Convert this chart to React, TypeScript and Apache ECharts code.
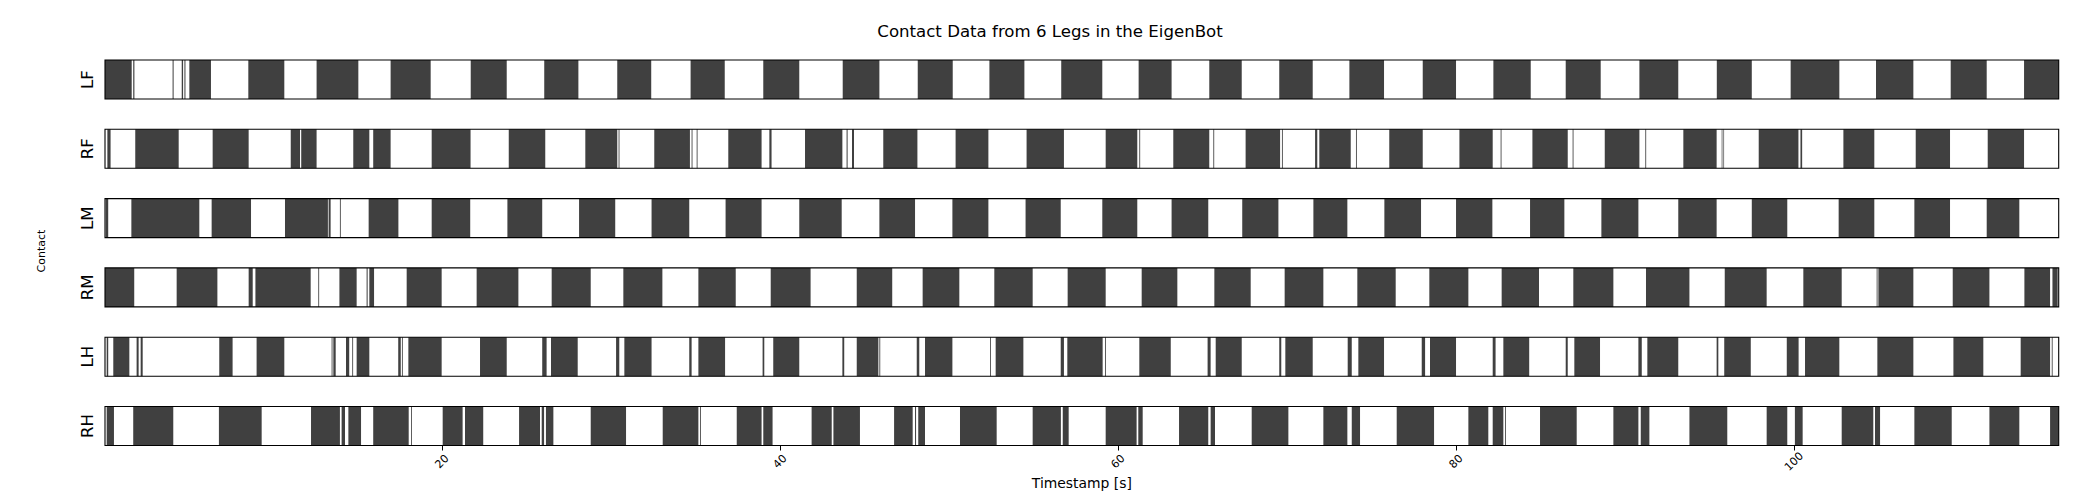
import React, { useEffect, useRef } from 'react';
import * as echarts from 'echarts';

const LEGS = ['LF', 'RF', 'LM', 'RM', 'LH', 'RH'];
const X_MIN = 0.06;
const X_MAX = 115.66;
const X_TICKS = [20, 40, 60, 80, 100];

const LF: [number, number][] = [[0.06,1.64],[1.73,1.80],[4.06,4.12],[4.60,4.68],[4.76,4.82],[5.05,6.33],[8.54,10.67],[12.58,15.05],[16.96,19.33],[21.70,23.83],[26.05,28.07],[30.37,32.38],[34.71,36.73],[39.01,41.14],[43.71,45.88],[48.15,50.22],[52.39,54.46],[56.64,59.07],[61.22,63.17],[65.40,67.32],[69.54,71.52],[73.69,75.74],[78.03,80.00],[82.21,84.42],[86.49,88.56],[90.85,93.15],[95.43,97.50],[99.80,102.68],[104.85,107.06],[109.27,111.40],[113.61,115.66]];
const RF: [number, number][] = [[0.20,0.39],[1.85,4.42],[6.43,8.56],[11.05,11.60],[11.67,12.58],[14.75,15.70],[15.93,16.96],[19.39,21.69],[23.95,26.11],[28.48,30.37],[30.45,30.50],[32.56,34.67],[34.77,34.82],[35.07,35.12],[36.94,38.91],[39.37,39.50],[41.48,43.69],[43.94,44.00],[44.26,44.38],[46.11,48.13],[50.39,52.33],[54.59,56.80],[59.27,61.14],[61.26,61.31],[63.27,65.40],[65.64,65.69],[67.55,69.59],[69.70,69.75],[71.66,71.79],[71.91,73.77],[74.08,74.13],[76.05,78.03],[80.20,82.17],[82.64,82.69],[84.52,86.61],[86.90,86.95],[88.80,90.85],[91.20,91.25],[93.45,95.42],[95.72,95.76],[95.82,95.86],[97.91,100.26],[100.38,100.48],[102.92,104.75],[107.20,109.23],[111.46,113.61]];
const LM: [number, number][] = [[0.10,0.25],[1.62,5.64],[6.37,8.70],[10.71,13.25],[13.29,13.41],[13.96,14.01],[15.66,17.42],[19.39,21.67],[23.87,25.93],[28.11,30.25],[32.40,34.63],[36.78,38.91],[41.14,43.65],[45.88,47.99],[50.20,52.33],[54.53,56.61],[59.07,61.14],[63.17,65.34],[67.35,69.49],[71.56,73.57],[75.76,77.93],[80.00,82.15],[84.38,86.41],[88.60,90.79],[93.15,95.42],[97.50,99.60],[102.64,104.75],[107.12,109.23],[111.40,113.33]];
const RM: [number, number][] = [[0.06,1.79],[4.30,6.71],[8.56,8.80],[8.96,12.23],[12.68,12.73],[13.93,14.95],[15.54,15.60],[15.70,15.98],[17.91,19.98],[22.05,24.52],[26.49,28.80],[30.73,33.04],[35.17,37.38],[39.45,41.81],[44.54,46.64],[48.44,50.61],[52.68,54.95],[57.02,59.27],[61.40,63.51],[65.70,67.85],[69.86,72.15],[74.16,76.43],[78.42,80.73],[82.70,84.91],[86.94,89.31],[91.24,93.81],[95.90,98.38],[100.55,102.82],[104.89,104.94],[104.99,107.06],[109.39,111.56],[113.63,115.15],[115.29,115.60]];
const LH: [number, number][] = [[0.16,0.25],[0.55,1.50],[1.93,2.05],[2.17,2.29],[6.82,7.61],[9.03,10.67],[13.47,13.52],[13.57,13.71],[14.32,14.51],[14.69,14.74],[14.95,15.70],[17.41,17.56],[17.63,17.68],[18.01,19.98],[22.25,23.83],[25.93,26.19],[26.45,28.03],[30.30,30.49],[30.79,32.40],[34.63,34.77],[35.17,36.75],[38.97,39.07],[39.60,41.14],[43.69,43.80],[44.54,45.82],[45.88,45.93],[48.09,48.24],[48.58,50.20],[52.43,52.48],[52.76,54.40],[56.61,56.80],[57.00,59.09],[59.23,59.28],[61.26,63.12],[65.30,65.48],[65.78,67.32],[69.54,69.66],[69.90,71.52],[73.59,73.83],[74.22,75.74],[77.97,78.17],[78.46,80.00],[82.17,82.34],[82.80,84.33],[86.49,86.61],[87.00,88.52],[90.79,90.99],[91.32,93.15],[95.42,95.52],[95.87,97.44],[99.57,100.27],[100.65,102.68],[104.93,107.06],[109.43,111.20],[113.41,115.15],[115.25,115.30]];
const RH: [number, number][] = [[0.16,0.59],[1.73,4.10],[6.80,9.33],[12.25,13.96],[14.06,14.26],[14.46,15.21],[15.93,18.03],[18.17,18.22],[20.04,21.22],[21.36,22.44],[24.56,25.80],[25.90,26.04],[26.15,26.59],[28.80,30.89],[33.06,35.17],[35.27,35.32],[37.44,38.91],[39.01,39.56],[41.87,43.06],[43.16,44.73],[46.75,47.85],[47.99,48.05],[48.18,48.58],[50.65,52.82],[54.95,56.62],[56.73,57.08],[59.27,61.10],[61.20,61.46],[63.61,65.34],[65.48,65.74],[67.91,70.08],[72.15,73.57],[73.83,74.32],[76.49,78.70],[80.73,81.91],[82.17,82.80],[82.90,82.95],[84.97,87.14],[89.31,90.79],[90.93,91.44],[93.81,96.05],[98.38,99.60],[100.05,100.51],[102.82,104.69],[104.79,105.09],[107.12,109.33],[111.56,113.33],[115.15,115.66]];

const LEG_DATA = [LF, RF, LM, RM, LH, RH];
const FONT = 'DejaVu Sans';

export default function App() {
  const ref = useRef<HTMLDivElement>(null);
  useEffect(() => {
    if (!ref.current) return;
    const chart = echarts.init(ref.current, undefined, { renderer: 'svg' });
    const grids: any[] = [];
    const xAxes: any[] = [];
    const yAxes: any[] = [];
    const series: any[] = [];
    LEGS.forEach((leg, i) => {
      const isLast = i === LEGS.length - 1;
      grids.push({ left: 105, right: 41.3, top: 60 + i * 69.3, height: 39, outerBoundsMode: 'none' });
      xAxes.push({
        gridIndex: i,
        type: 'value',
        min: X_MIN,
        max: X_MAX,
        show: true,
        axisLine: { show: false },
        splitLine: { show: false },
        axisTick: isLast
          ? { show: true, customValues: X_TICKS, length: 5, lineStyle: { color: '#000', width: 1 } }
          : { show: false },
        axisLabel: isLast
          ? {
              show: true,
              customValues: X_TICKS,
              rotate: 45,
              align: 'center',
              verticalAlign: 'middle',
              margin: 16,
              fontSize: 11,
              color: '#000',
              fontFamily: FONT,
            }
          : { show: false },
        name: isLast ? 'Timestamp [s]' : '',
        nameLocation: 'middle',
        nameGap: 26,
        nameTextStyle: { fontSize: 13.9, color: '#000', fontFamily: FONT },
      });
      yAxes.push({
        gridIndex: i,
        type: 'value',
        min: 0,
        max: 1,
        axisLine: { show: false },
        axisTick: { show: false },
        axisLabel: { show: false },
        splitLine: { show: false },
        name: leg,
        nameLocation: 'middle',
        nameGap: 9,
        nameTextStyle: { fontSize: 16.6, color: '#000', fontFamily: FONT },
      });
      series.push({
        type: 'custom',
        xAxisIndex: i,
        yAxisIndex: i,
        encode: { x: [0, 1] },
        data: LEG_DATA[i],
        renderItem: (params: any, api: any) => {
          const a = api.coord([api.value(0), 1]);
          const b = api.coord([api.value(1), 0]);
          return {
            type: 'rect',
            shape: { x: a[0], y: a[1], width: b[0] - a[0], height: b[1] - a[1] },
            style: { fill: '#404040' },
          };
        },
        z: 2,
      });
      series.push({
        type: 'custom',
        xAxisIndex: i,
        yAxisIndex: i,
        encode: { x: [0, 1] },
        data: [[X_MIN, X_MAX]],
        silent: true,
        renderItem: (params: any, api: any) => {
          const a = api.coord([api.value(0), 1]);
          const b = api.coord([api.value(1), 0]);
          return {
            type: 'rect',
            shape: { x: a[0], y: a[1], width: b[0] - a[0], height: b[1] - a[1] },
            style: { fill: 'none', stroke: '#000', lineWidth: 1.1 },
          };
        },
        z: 10,
      });
    });

    chart.setOption({
      animation: false,
      backgroundColor: '#fff',
      title: {
        text: 'Contact Data from 6 Legs in the EigenBot',
        left: 'center',
        top: 18,
        textStyle: { fontSize: 16.6, fontWeight: 'normal', color: '#000', fontFamily: FONT },
      },
      graphic: [
        {
          type: 'text',
          x: 41,
          y: 251,
          rotation: Math.PI / 2,
          style: {
            text: 'Contact',
            fontSize: 11,
            fill: '#000',
            fontFamily: FONT,
            align: 'center',
            verticalAlign: 'middle',
          },
        },
      ],
      grid: grids,
      xAxis: xAxes,
      yAxis: yAxes,
      series,
    });
    return () => chart.dispose();
  }, []);
  return (
    <div
      ref={ref}
      style={{ position: 'fixed', left: 0, top: 0, width: 2100, height: 500, background: '#fff' }}
    />
  );
}
